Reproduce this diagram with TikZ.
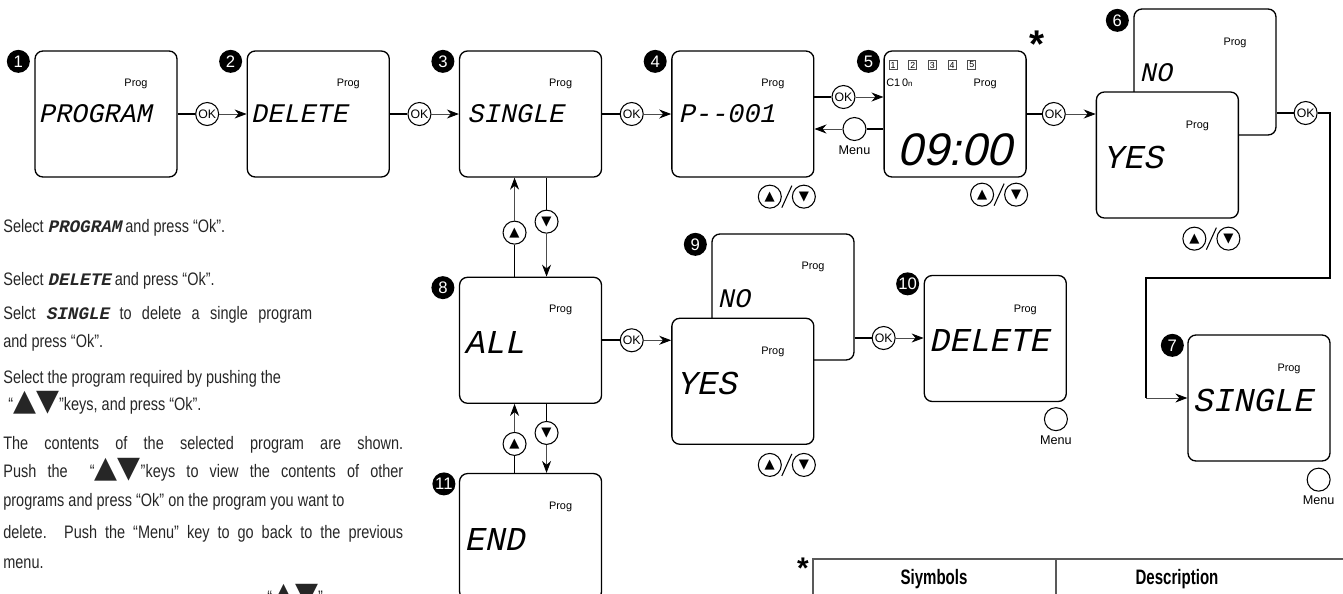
\documentclass[tikz,border=0pt]{standalone}
\usepackage{fontspec}
\setmainfont{Liberation Sans}[FakeStretch=0.8]
\newfontfamily\plainsf{Liberation Sans}
\newfontfamily\headsf{Liberation Sans}[FakeStretch=0.72]
\newfontfamily\lcdsf{Liberation Mono}[FakeSlant=0.22]
\newfontfamily\lcdwide{Liberation Sans}[FakeSlant=0.22]
\newfontfamily\symsf{DejaVu Sans}
\usetikzlibrary{positioning,arrows.meta,calc}

\newcommand{\lcdword}[1]{{\lcdsf\bfseries\fontsize{10}{12}\selectfont #1}}
\newcommand{\tri}{{\symsf\fontsize{17}{12}\selectfont ▲▼}}
\newcommand{\upkey}{{\symsf\fontsize{7.5}{8}\selectfont ▲}}
\newcommand{\dnkey}{{\symsf\fontsize{7.5}{8}\selectfont ▼}}
\newcommand{\updn}[1]{%
  \draw[line width=0.6pt] ([shift={(-5,11)}]#1) -- ([shift={(5,-11)}]#1);
  \node[key, left=0.1cm of #1] (#1u) {\upkey};
  \node[key, right=0.1cm of #1] (#1d) {\dnkey};
}

\begin{document}
\begin{tikzpicture}[
  x=0.02cm, y=-0.02cm,
  screen/.style={draw, line width=0.75pt, rounded corners=4.5pt, fill=white,
                 minimum width=2.84cm, minimum height=2.52cm, inner sep=0pt},
  badge/.style={circle, fill=black, text=white, minimum size=0.46cm, inner sep=0pt,
                font=\plainsf\fontsize{9.5}{10}\selectfont},
  prog/.style={inner sep=0pt, font=\plainsf\fontsize{6.2}{7}\selectfont},
  seg/.style={anchor=west, inner sep=0pt, font=\lcdsf\fontsize{15.3}{16}\selectfont},
  bigseg/.style={anchor=west, inner sep=0pt, font=\lcdsf\fontsize{19}{20}\selectfont},
  key/.style={circle, draw, fill=white, line width=0.6pt, minimum size=0.46cm, inner sep=0pt,
              font=\plainsf\fontsize{7}{7}\selectfont},
  menulbl/.style={inner sep=0pt, font=\plainsf\fontsize{7.2}{8}\selectfont},
  sq/.style={draw=black!70, line width=0.4pt, minimum width=0.16cm, minimum height=0.19cm,
             inner sep=0pt, font=\plainsf\fontsize{5}{5}\selectfont},
  stem/.style={line width=1pt},
  fwd/.style={-{Stealth[length=2.4mm,width=1.8mm,color=black]}, line width=0.5pt, draw=black!70},
  txt/.style={anchor=base west, inner sep=0pt, text=black!85,
              font=\fontsize{10.3}{12}\selectfont},
  head/.style={inner sep=0pt, font=\headsf\bfseries\fontsize{11.9}{12}\selectfont},
  star/.style={anchor=north, inner sep=0pt, font=\plainsf\bfseries\fontsize{22}{22}\selectfont},
  tbl/.style={draw=black!65, line width=0.6pt},
  node distance=1.38cm
]
\useasboundingbox (0,0) rectangle (1343,593);

% screens, top row
\node[screen] (s1) at (106,114) {};
\node[screen, right=of s1] (s2) {};
\node[screen, right=of s2] (s3) {};
\node[screen, right=of s3] (s4) {};
\node[screen, right=of s4] (s5) {};
\node[screen] (s6b) at (1205,72) {};
\node[screen, right=of s5, yshift=-0.82cm] (s6f) {};
\node[screen] (s7) at (1259,398) {};

% screens, lower rows
\node[screen, below=1.98cm of s3] (s8) {};
\node[screen, below=of s8] (s11) {};
\node[screen] (s9b) at (783,297) {};
\node[screen, right=of s8, yshift=-0.82cm] (s9f) {};
\node[screen, right=of s9b, yshift=-0.83cm] (s10) {};

% step numbers
\node[badge] (b1) at ([shift={(-16,11)}]s1.north west) {1};
\node[badge] (b2) at ([shift={(-16,11)}]s2.north west) {2};
\node[badge] (b3) at ([shift={(-16,11)}]s3.north west) {3};
\node[badge] (b4) at ([shift={(-16,11)}]s4.north west) {4};
\node[badge] (b5) at ([shift={(-15,11)}]s5.north west) {5};
\node[badge] (b6) at ([shift={(-16,12)}]s6b.north west) {6};
\node[badge] (b7) at ([shift={(-15,11)}]s7.north west) {7};
\node[badge] (b8) at ([shift={(-16,11)}]s8.north west) {8};
\node[badge] (b9) at ([shift={(-16,11)}]s9b.north west) {9};
\node[badge] (b10) at ([shift={(-16,9)}]s10.north west) {10};
\node[badge] (b11) at ([shift={(-15,11)}]s11.north west) {11};

% display texts
\node[prog] (g1) at ([shift={(30,-30)}]s1.center) {Prog};
\node[prog] (g2) at ([shift={(30,-30)}]s2.center) {Prog};
\node[prog] (g3) at ([shift={(30,-30)}]s3.center) {Prog};
\node[prog] (g4) at ([shift={(30,-30)}]s4.center) {Prog};
\node[prog] (g5) at ([shift={(30,-30)}]s5.center) {Prog};
\node[prog] (g6b) at ([shift={(30,-29)}]s6b.center) {Prog};
\node[prog] (g6f) at ([shift={(30,-29)}]s6f.center) {Prog};
\node[prog] (g7) at ([shift={(30,-29)}]s7.center) {Prog};
\node[prog] (g8) at ([shift={(30,-30)}]s8.center) {Prog};
\node[prog] (g9b) at ([shift={(30,-30)}]s9b.center) {Prog};
\node[prog] (g9f) at ([shift={(30,-29)}]s9f.center) {Prog};
\node[prog] (g10) at ([shift={(30,-29)}]s10.center) {Prog};
\node[prog] (g11) at ([shift={(30,-30)}]s11.center) {Prog};

\node[seg] (d1) at ([xshift=0.08cm]s1.west) {PROGRAM};
\node[seg] (d2) at ([xshift=0.08cm]s2.west) {DELETE};
\node[seg] (d3) at ([xshift=0.16cm]s3.west) {SINGLE};
\node[seg] (d4) at ([xshift=0.14cm]s4.west) {P--001};
\node[seg] (d6b) at ([shift={(6,1)}]s6b.west) {NO};
\node[bigseg] (d6f) at ([shift={(7,2)}]s6f.west) {YES};
\node[bigseg] (d7) at ([shift={(5,2)}]s7.west) {SINGLE};
\node[bigseg] (d8) at ([shift={(5,2)}]s8.west) {ALL};
\node[seg] (d9b) at ([shift={(6,2)}]s9b.west) {NO};
\node[bigseg] (d9f) at ([shift={(5,2)}]s9f.west) {YES};
\node[bigseg] (d10) at ([shift={(5,2)}]s10.west) {DELETE};
\node[bigseg] (d11) at ([shift={(5,3)}]s11.west) {END};

% clock screen
\node[sq] (n1) at (893,65) {1};
\node[sq, right=0.22cm of n1] (n2) {2};
\node[sq, right=0.22cm of n2] (n3) {3};
\node[sq, right=0.22cm of n3] (n4) {4};
\node[sq, right=0.22cm of n4] (n5) {5};
\node[prog, anchor=west] (c10n) at (886,83) {C1\,0{\fontsize{4.5}{5}\selectfont n}};
\node[inner sep=0pt, font=\lcdwide\fontsize{26}{26}\selectfont] (clock)
  at ([shift={(0,36)}]s5.center) {09:00};

% keys, top row
\node[key, right=0.35cm of s1] (ok1) {OK};
\node[key, right=0.35cm of s2] (ok2) {OK};
\node[key, right=0.35cm of s3] (ok3) {OK};
\node[key] (ok4) at ([shift={(29,-17)}]s4.east) {OK};
\node[key] (mn4) at ([shift={(40,15)}]s4.east) {};
\node[menulbl, below=0.08cm of mn4] (mn4l) {Menu};
\node[key, right=0.3cm of s5] (ok5) {OK};
\node[key] (ok6) at ([shift={(29,41)}]s6b.east) {OK};

% keys, lower part
\node[key] (up8) at ([shift={(-16,-44)}]s8.north) {\upkey};
\node[key] (dn3) at ([shift={(16,44)}]s3.south) {\dnkey};
\node[key] (up11) at ([shift={(-16,-29)}]s11.north) {\upkey};
\node[key] (dn8) at ([shift={(16,29)}]s8.south) {\dnkey};
\node[key, right=0.35cm of s8] (ok8) {OK};
\node[key] (ok9) at ([shift={(29,41)}]s9b.east) {OK};
\node[key] (mn10) at ([shift={(-11,17)}]s10.south east) {};
\node[menulbl, below=0.08cm of mn10] (mn10l) {Menu};
\node[key] (mn7) at ([shift={(-12,18)}]s7.south east) {};
\node[menulbl, below=0.08cm of mn7] (mn7l) {Menu};

% up/down pairs
\coordinate (ud4) at ([shift={(44,19)}]s4.south);
\coordinate (ud5) at ([shift={(44,17)}]s5.south);
\coordinate (ud6) at ([shift={(44,20)}]s6f.south);
\coordinate (ud9) at ([shift={(44,20)}]s9f.south);
\updn{ud4}
\updn{ud5}
\updn{ud6}
\updn{ud9}

% connectors
\draw[stem] (s1) -- (ok1);
\draw[fwd] (ok1) -- (s2);
\draw[stem] (s2) -- (ok2);
\draw[fwd] (ok2) -- (s3);
\draw[stem] (s3) -- (ok3);
\draw[fwd] (ok3) -- (s4);
\draw[stem] (s4.east |- ok4) -- (ok4);
\draw[fwd] (ok4) -- (ok4 -| s5.west);
\draw[stem] (s5.west |- mn4) -- (mn4);
\draw[fwd] (mn4) -- (mn4 -| s4.east);
\draw[stem] (s5) -- (ok5);
\draw[fwd] (ok5) -- (ok5 -| s6f.west);
\draw[stem] (ok6 -| s6b.east) -- (ok6);
\coordinate (bend) at (1330,278);
\coordinate (turn) at (1146,398);
\draw[stem] (ok6) -| (bend) -| (turn);
\draw[fwd] (turn) -- (s7);

\draw[stem] (s8.north -| up8) -- (up8);
\draw[fwd] (up8) -- (up8 |- s3.south);
\draw[stem] (s3.south -| dn3) -- (dn3);
\draw[fwd] (dn3) -- (dn3 |- s8.north);
\draw[stem] (s11.north -| up11) -- (up11);
\draw[fwd] (up11) -- (up11 |- s8.south);
\draw[stem] (s8.south -| dn8) -- (dn8);
\draw[fwd] (dn8) -- (dn8 |- s11.north);
\draw[stem] (s8) -- (ok8);
\draw[fwd] (ok8) -- (ok8 -| s9f.west);
\draw[stem] (ok9 -| s9b.east) -- (ok9);
\draw[fwd] (ok9) -- (ok9 -| s10.west);

% instructions
\node[txt] (p1) at (3,232) {Select \lcdword{PROGRAM} and press “Ok”.};
\node[txt] (p2) at (3,285) {Select \lcdword{DELETE} and press “Ok”.};
\node[txt] (p3) at (3,319) {\makebox[6.18cm][s]{Selct \lcdword{SINGLE} to delete a single program}};
\node[txt] (p3b) at (3,347) {and press “Ok”.};
\node[txt] (p4) at (3,383) {Select the program required by pushing the};
\node[txt] (p4b) at (3,410) {\hspace{0.1cm}“\tri”keys, and press “Ok”.};
\node[txt] (p5) at (3,449) {\makebox[8cm][s]{The contents of the selected program are shown.}};
\node[txt] (p5b) at (3,477) {\makebox[8cm][s]{Push the \ “\tri”keys to view the contents of other}};
\node[txt] (p5c) at (3,506) {programs and press “Ok” on the program you want to};
\node[txt] (p5d) at (3,538) {\makebox[8cm][s]{delete. Push the “Menu” key to go back to the previous}};
\node[txt] (p5e) at (3,568) {menu.};
\node[txt] (p6) at (267,603) {“\tri”};

% symbol table
\draw[tbl] (813,600) -- (813,559) -- (1350,559);
\draw[tbl] (1056,559) -- (1056,600);
\node[head] (hsym) at (934,579) {Siymbols};
\node[head] (hdesc) at (1177,579) {Description};
\node[star] (st1) at (1037,31) {*};
\node[star, font=\plainsf\bfseries\fontsize{17}{17}\selectfont] (st2) at (803,558) {*};
\end{tikzpicture}
\end{document}
